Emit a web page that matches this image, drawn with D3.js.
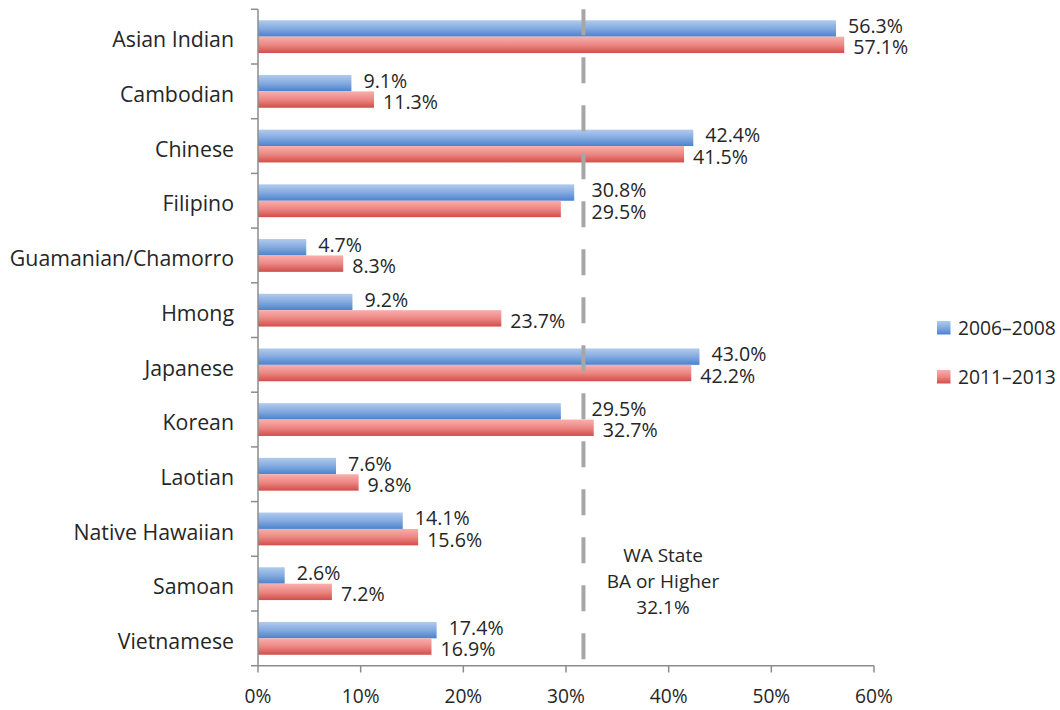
<!DOCTYPE html>
<html>
<head>
<meta charset="utf-8">
<script src="https://cdn.jsdelivr.net/npm/d3@7"></script>
<style>
  html, body { margin: 0; padding: 0; background: #ffffff; }
  svg { display: block; }
  text { font-family: "Open Sans", "Noto Sans", sans-serif; fill: #262626; }
</style>
</head>
<body>
<svg id="chart" width="1060" height="710"></svg>
<script>
// ---- data ----
const categories = ["Asian Indian", "Cambodian", "Chinese", "Filipino", "Guamanian/Chamorro",
  "Hmong", "Japanese", "Korean", "Laotian", "Native Hawaiian", "Samoan", "Vietnamese"];
const seriesNames = ["2006\u20132008", "2011\u20132013"];
const values2006 = [56.3, 9.1, 42.4, 30.8, 4.7, 9.2, 43.0, 29.5, 7.6, 14.1, 2.6, 17.4];
const values2011 = [57.1, 11.3, 41.5, 29.5, 8.3, 23.7, 42.2, 32.7, 9.8, 15.6, 7.2, 16.9];
const xTicks = [0, 10, 20, 30, 40, 50, 60];
const stateLineAt = 31.7;              // where the reference line sits
const stateLabel = ["WA State", "BA or Higher", "32.1%"];

// ---- layout ----
const W = 1060, H = 710;
const svg = d3.select("#chart");
const x = d3.scaleLinear().domain([0, 60]).range([258, 874]);
const y = d3.scaleBand().domain(categories).range([9.3, 665.7]).paddingInner(0).paddingOuter(0);
const ySub = d3.scaleBand().domain([0, 1]).range([0, y.bandwidth()]).paddingInner(0).paddingOuter(0.667);

const defs = svg.append("defs");
function grad(id, stops) {
  const g = defs.append("linearGradient").attr("id", id)
    .attr("x1", 0).attr("y1", 0).attr("x2", 0).attr("y2", 1);
  stops.forEach(s => g.append("stop").attr("offset", s[0]).attr("stop-color", s[1]));
}
grad("gBlue", [[0, "#b0cbee"], [0.5, "#84aae0"], [1, "#4a82cd"]]);
grad("gRed", [[0, "#f9afac"], [0.5, "#ec8784"], [1, "#d24e49"]]);
const fills = ["url(#gBlue)", "url(#gRed)"];

const series = [values2006, values2011];

// bars
series.forEach((vals, si) => {
  svg.append("g").selectAll("rect").data(vals).join("rect")
    .attr("x", x(0))
    .attr("y", (d, i) => y(categories[i]) + ySub(si))
    .attr("width", d => x(d) - x(0))
    .attr("height", ySub.bandwidth())
    .attr("fill", fills[si]);
});

// dashed reference line
svg.append("line")
  .attr("x1", x(stateLineAt)).attr("x2", x(stateLineAt))
  .attr("y1", 9.3).attr("y2", 665.7)
  .attr("stroke", "#a6a6a6").attr("stroke-width", 4)
  .attr("stroke-dasharray", "26 22");

// value labels
const lineX = x(stateLineAt);
const labelG = svg.append("g");
series.forEach((vals, si) => {
  vals.forEach((v, i) => {
    const cy = y(categories[i]) + ySub(si) + ySub.bandwidth() / 2 + (si === 0 ? -2.5 : 2.5);
    let lx = x(v) + (si === 0 ? 12 : 9);
    const txt = v.toFixed(1) + "%";
    const g = labelG.append("g");
    const bg = g.append("rect").attr("fill", "#fff");
    const t = g.append("text").attr("x", lx).attr("y", cy).attr("dy", "0.36em")
      .attr("font-size", 19.6).text(txt);
    let w = t.node().getComputedTextLength();
    if (lx < lineX + 6 && lx + w > lineX - 6) { lx = lineX + 8; t.attr("x", lx); }
    bg.attr("x", lx - 2).attr("y", cy - 9).attr("width", w + 4).attr("height", 18);
  });
});

// axes
const axisColor = "#8c8c8c";
const axisG = svg.append("g");
axisG.append("line").attr("x1", x(0)).attr("x2", x(0)).attr("y1", 9.3).attr("y2", 665.7)
  .attr("stroke", axisColor).attr("stroke-width", 1.5);
axisG.append("line").attr("x1", x(0)).attr("x2", x(60)).attr("y1", 665.7).attr("y2", 665.7)
  .attr("stroke", axisColor).attr("stroke-width", 1.5);
const bounds = categories.map(c => y(c)).concat([665.7]);
axisG.selectAll(".yt").data(bounds).join("line")
  .attr("x1", x(0) - 7).attr("x2", x(0)).attr("y1", d => d).attr("y2", d => d)
  .attr("stroke", axisColor).attr("stroke-width", 1.5);
axisG.selectAll(".xt").data(xTicks).join("line")
  .attr("x1", d => x(d)).attr("x2", d => x(d)).attr("y1", 665.7).attr("y2", 672.5)
  .attr("stroke", axisColor).attr("stroke-width", 1.5);
axisG.selectAll(".xl").data(xTicks).join("text")
  .attr("x", d => x(d)).attr("y", 696).attr("dy", "0.36em")
  .attr("text-anchor", "middle").attr("font-size", 19.2)
  .text(d => d + "%");
axisG.selectAll(".cl").data(categories).join("text")
  .attr("x", 234).attr("y", d => y(d) + y.bandwidth() / 2 + 3).attr("dy", "0.36em")
  .attr("text-anchor", "end").attr("font-size", 21.3)
  .text(d => d);

// state annotation
svg.append("g").selectAll("text").data(stateLabel).join("text")
  .attr("x", 663).attr("y", (d, i) => 555 + i * 26).attr("dy", "0.36em")
  .attr("text-anchor", "middle").attr("font-size", 19).text(d => d);

// legend
const legY = [328, 377];
const leg = svg.append("g");
seriesNames.forEach((n, i) => {
  leg.append("rect").attr("x", 937).attr("y", legY[i] - 7).attr("width", 13.5).attr("height", 13.5)
    .attr("fill", fills[i]);
  leg.append("text").attr("x", 958).attr("y", legY[i]).attr("dy", "0.36em")
    .attr("font-size", 19.3).text(n);
});
</script>
</body>
</html>
